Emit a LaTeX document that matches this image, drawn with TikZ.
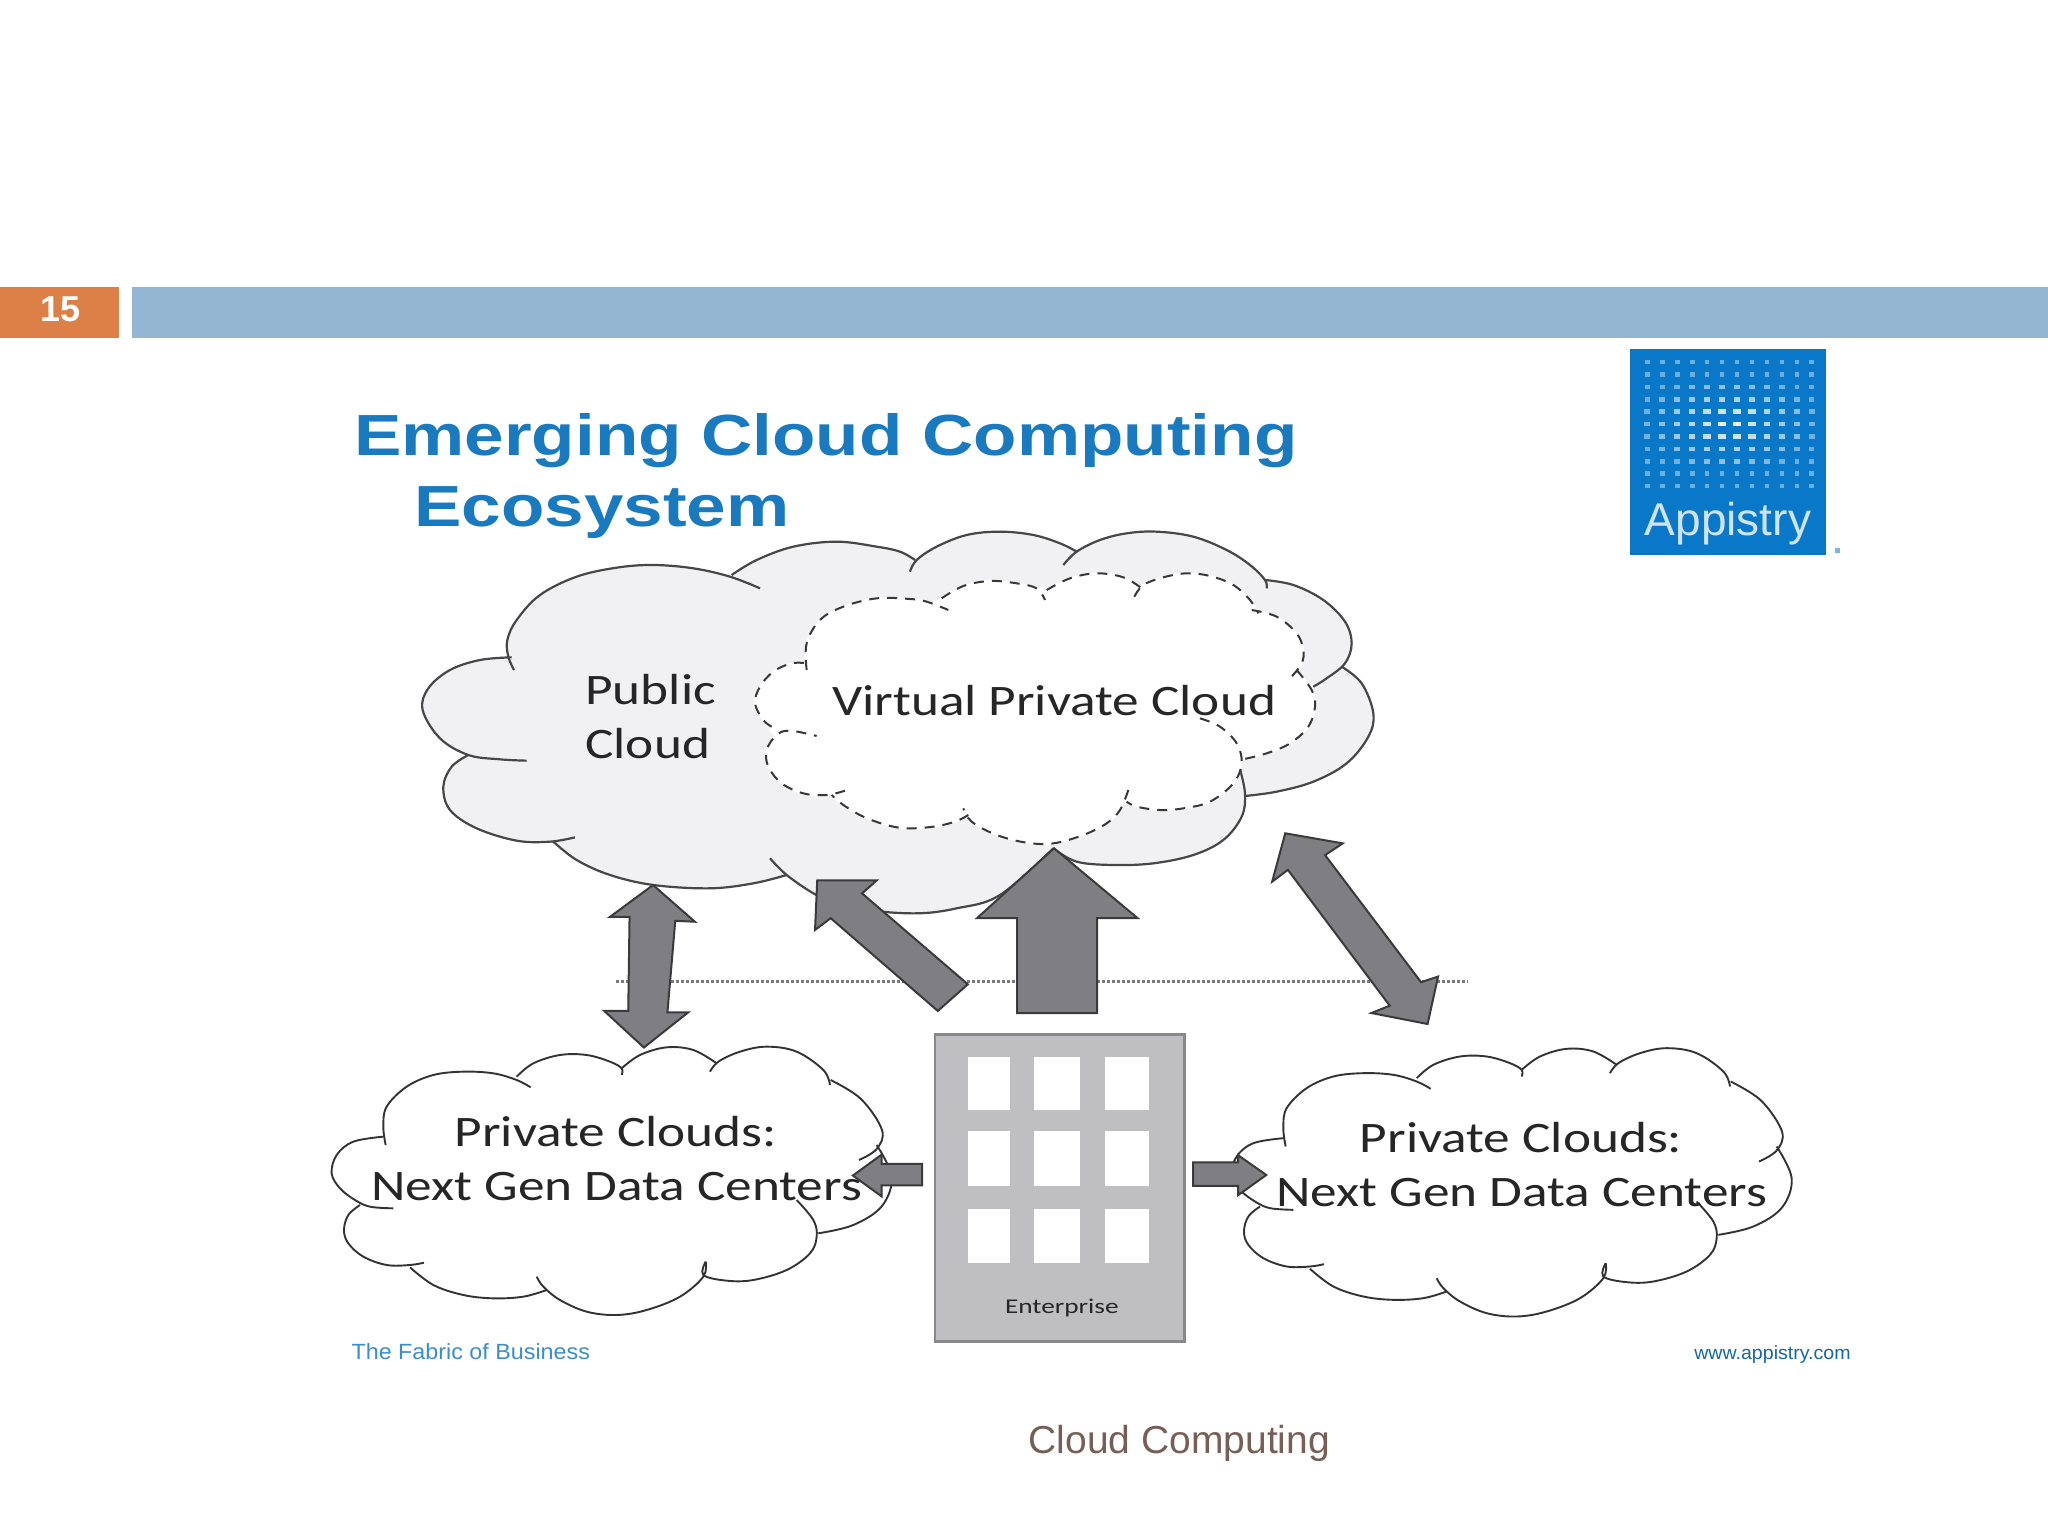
\documentclass[tikz,border=0pt]{standalone}
\usepackage{fontspec}
\setmainfont{Liberation Sans}
\newfontfamily\calib[FakeStretch=1.225]{Carlito}
\newfontfamily\calibw[FakeStretch=1.3]{Carlito}
\newfontfamily\titlef[FakeStretch=1.225]{Liberation Sans}
\newfontfamily\footf[FakeStretch=1.06]{Liberation Sans}
\newfontfamily\footg[FakeStretch=1.03]{Liberation Sans}
\definecolor{orangebar}{HTML}{DD8047}
\definecolor{bluebar}{HTML}{94B6D2}
\definecolor{titleblue}{HTML}{1A7ABF}
\definecolor{logoblue}{HTML}{0A78C8}
\definecolor{pubfill}{HTML}{F1F1F3}
\definecolor{arrowfill}{HTML}{7F7F83}
\definecolor{arrowline}{HTML}{3A3A3C}
\definecolor{bldg}{HTML}{BFBFC1}
\definecolor{bldgline}{HTML}{88888A}
\definecolor{footer}{HTML}{775F55}
\tikzset{
  bumpline/.style={line width=2.2pt,draw=black!72},
  privline/.style={line width=1.9pt,draw=black!80},
  dashline/.style={line width=2pt,draw=black!78,dash pattern=on 10pt off 8pt},
  blockarrow/.style={fill=arrowfill,draw=arrowline,line width=2pt,line join=miter},
  win/.style={fill=white,draw=none},
  lab/.style={inner sep=0pt,anchor=base west,text=black!85},
  cropA/.style={x=.33333pt,y=-.33333pt,shift={(410pt,-500pt)}},
  cropP/.style={x=.33333pt,y=-.33333pt,shift={(320pt,-1030pt)}},
  pubarea/.style={fill=pubfill,draw=pubfill,line width=1.5pt},
  whitearea/.style={fill=white,draw=white,line width=1.5pt},
}
\def\fillpub#1{\path[pubarea] plot[smooth,tension=.6] coordinates {#1};}
\def\drawpub#1{\path[bumpline] plot[smooth,tension=.6] coordinates {#1};}
\def\fillwhite#1{\path[whitearea] plot[smooth,tension=.6] coordinates {#1};}
\def\drawdash#1{\path[dashline] plot[smooth,tension=.6] coordinates {#1};}
\def\drawpriv#1{\path[privline] plot[smooth,tension=.6] coordinates {#1};}
% all in the 3x frame of crop A
\def\pubbumps#1{%
 #1{(350,782)(270,778)(175,765)(90,715)(38,630)(55,565)(120,510)(210,480)(305,472)}
 #1{(312,510)(295,470)(292,420)(320,360)(390,285)(500,230)(620,203)(730,195)(850,205)(960,230)(1050,265)}
 #1{(965,225)(1040,180)(1150,140)(1280,125)(1400,140)(1470,155)(1515,180)}
 #1{(1500,215)(1520,180)(1580,140)(1670,105)(1770,95)(1870,105)(1950,130)(2000,155)}
 #1{(1960,195)(2000,155)(2070,120)(2150,100)(2240,95)(2350,110)(2450,150)(2520,195)(2565,240)(2570,265)}
 #1{(2565,240)(2650,255)(2740,300)(2805,365)(2825,430)(2805,490)(2750,535)(2710,560)}
 #1{(2795,500)(2855,550)(2890,640)(2875,710)(2810,790)(2710,845)(2600,875)(2505,888)}
 #1{(2488,800)(2505,880)(2495,950)(2440,1020)(2350,1065)(2230,1090)(2110,1095)(2000,1085)(1930,1045)}
 #1{(1930,1045)(1770,1185)(1640,1225)(1520,1240)(1370,1230)(1270,1205)(1210,1180)(1130,1125)(1080,1075)}
 #1{(1130,1125)(1030,1150)(900,1165)(730,1155)(600,1125)(500,1080)(430,1025)}
 #1{(495,1012)(420,1025)(320,1022)(200,985)(120,930)(100,860)(125,800)(175,765)}
}
\def\vpcbumps#1{%
 #1{(1190,510)(1190,430)(1230,360)(1300,320)(1400,295)(1500,297)(1550,305)(1615,330)}
 #1{(1595,295)(1660,258)(1740,243)(1820,250)(1880,265)(1905,300)}
 #1{(1910,270)(1980,235)(2060,220)(2140,232)(2195,265)}
 #1{(2173,290)(2200,255)(2260,232)(2330,220)(2400,228)(2470,255)(2520,300)(2545,340)}
 #1{(2525,330)(2600,350)(2660,400)(2680,450)(2675,490)(2645,530)}
 #1{(2660,510)(2705,570)(2715,620)(2695,680)(2640,730)(2570,760)(2490,780)}
 #1{(2370,655)(2430,680)(2480,730)(2495,790)(2470,850)(2400,905)(2320,925)(2250,930)(2180,920)(2150,905)}
 #1{(2155,870)(2130,930)(2090,970)(2020,1005)(1930,1030)(1850,1028)(1760,1005)(1685,965)(1660,925)}
 #1{(1675,945)(1635,965)(1570,980)(1490,985)(1430,975)(1360,950)(1300,915)(1265,885)}
 #1{(1305,872)(1250,885)(1180,880)(1115,850)(1075,800)(1070,750)(1100,705)(1140,692)(1220,708)}
 #1{(1085,680)(1060,660)(1035,610)(1050,560)(1090,515)(1145,490)(1195,490)}
}
% all in the 3x frame of crop P
\def\privbumps#1{%
 #1{(197,345)(190,290)(200,230)(260,170)(340,135)(430,125)(520,130)(590,150)(632,172)}
 #1{(590,140)(640,100)(720,75)(800,75)(870,95)(905,115)(905,135)}
 #1{(905,115)(960,75)(1040,52)(1120,60)(1190,100)}
 #1{(1170,125)(1195,95)(1260,65)(1340,50)(1430,65)(1510,120)(1530,165)}
 #1{(1532,150)(1623,207)(1686,300)(1670,357)(1617,390)}
 #1{(1670,345)(1715,440)(1686,528)(1600,585)(1495,610)}
 #1{(1430,510)(1480,570)(1490,620)(1470,670)(1400,720)(1300,750)(1220,752)(1150,735)(1157,695)}
 #1{(1157,695)(1150,740)(1080,800)(980,840)(890,855)(800,845)(720,810)(670,770)(650,740)}
 #1{(680,780)(610,800)(520,805)(430,795)(340,765)(270,712)}
 #1{(312,698)(270,705)(200,705)(130,680)(85,640)(72,600)(85,555)(120,525)}
 #1{(220,535)(150,530)(105,510)(60,475)(35,430)(50,375)(100,335)(190,320)}
}
\def\privcloud{%
 \path[whitearea] (190,320)--(590,145)--(905,115)--(1190,95)--(1530,150)--(1670,345)--(1495,610)--(1150,735)--(675,780)--(270,705)--(120,525)--cycle;
 \privbumps\fillwhite
 \privbumps\drawpriv
}
\begin{document}
\begin{tikzpicture}[x=1.30612pt,y=-1.30612pt]
\useasboundingbox (0,0) rectangle (1568,1175.25);
\fill[white] (0,0) rectangle (1568,1175.25);
% header bars
\fill[orangebar] (0,220) rectangle (91,258.5);
\fill[bluebar] (101,220) rectangle (1568,258.5);
\node[inner sep=0pt,text=white] (num) at (46,237) {\fontsize{36}{36}\selectfont\bfseries 15};
% title
\node[lab,text=titleblue] (t1) at (271,349) {\fontsize{58}{58}\selectfont\titlef\bfseries Emerging Cloud Computing};
\node[lab,text=titleblue] (t2) at (317,403) {\fontsize{58}{58}\selectfont\titlef\bfseries Ecosystem};
% logo
\fill[logoblue] (1248,267) rectangle (1398,425);
\foreach \i in {0,...,11}{\foreach \j in {0,...,10}{
  \pgfmathsetmacro\dd{min(1,sqrt((\i-5.5)*(\i-5.5)/36+(\j-5)*(\j-5)/16))}
  \pgfmathsetmacro\op{0.95-0.55*\dd}
  \pgfmathsetmacro\ww{6.4-2.6*\dd}
  \fill[white,opacity=\op] ({1261+\i*11.48-\ww/2},{277.2+\j*9.5-1.8}) rectangle +(\ww,3.6);
}}
\fill[logoblue!55] (1405,419.5) rectangle +(4,4);
\node[inner sep=0pt,anchor=base,text=white!80!logoblue] (logo) at (1323,410) {\fontsize{46}{46}\selectfont Appistry};
% public cloud
\begin{scope}[cropA]
\path[pubarea] (295,470)--(965,225)--(1520,180)--(2000,155)--(2565,240)--(2800,495)--(2505,888)--(1930,1045)--(1130,1125)--(430,1025)--(175,765)--cycle;
\pubbumps\fillpub
\pubbumps\drawpub
% virtual private cloud
\path[whitearea] (1185,490)--(1600,295)--(1905,262)--(2195,258)--(2530,325)--(2660,515)--(2490,780)--(2155,905)--(1670,945)--(1265,885)--(1080,690)--cycle;
\vpcbumps\fillwhite
\vpcbumps\drawdash
\end{scope}
% dotted line
\draw[line width=3pt,draw=black!52,dash pattern=on 3pt off 2pt] (472,751.6)--(1124,751.6);
% private clouds
\begin{scope}[cropP]
\privcloud
\end{scope}
\begin{scope}[cropP,shift={(900pt,-1.5pt)}]
\privcloud
\end{scope}
% block arrows
\draw[blockarrow] (500,677.6)--(532,705.7)--(517,705)--(511,775)--(527,775)--(493,802)--(462.6,774)--(481,774)--(482,702)--(467,702)--cycle;
\draw[blockarrow] (625.7,674)--(671.3,674)--(660,684)--(741,753.6)--(718,774)--(636,703)--(624,712)--cycle;
\draw[blockarrow] (807,649.5)--(871,703)--(840,703)--(840,775.6)--(778.7,775.6)--(778.7,703)--(748,703)--cycle;
\draw[blockarrow] (984,638)--(1028,645.7)--(1014.5,654.7)--(1088,752)--(1101,747.7)--(1093,784)--(1050,775.6)--(1064,770)--(986,666)--(974,675)--cycle;
\draw[blockarrow] (653,900)--(675,884)--(675,891)--(706,891)--(706,907.5)--(675,907.5)--(675,916)--cycle;
\draw[blockarrow] (969.5,899.6)--(948,884.5)--(948,890)--(913.5,890)--(913.5,908)--(948,908)--(948,915)--cycle;
% building
\draw[fill=bldg,draw=bldgline,line width=2.4pt] (716,792) rectangle (907,1027);
\foreach \xa/\xb in {741/773,792/827,846/880}{\foreach \ya/\yb in {809/850,866/908,926/967}{
  \fill[win] (\xa,\ya) rectangle (\xb,\yb);}}
\node[lab,anchor=base] (ent) at (813,1006) {\fontsize{21}{21}\selectfont\calibw Enterprise};
% labels
\node[lab] (pub1) at (448,539) {\fontsize{43.5}{44}\selectfont\calib Public};
\node[lab] (pub2) at (448,580.5) {\fontsize{43.5}{44}\selectfont\calib Cloud};
\node[lab] (vpc) at (637,548) {\fontsize{43.5}{44}\selectfont\calib Virtual Private Cloud};
\node[lab] (pl1) at (348,878) {\fontsize{43.5}{44}\selectfont\calib Private Clouds:};
\node[lab] (pl2) at (284,919.5) {\fontsize{43.5}{44}\selectfont\calib Next Gen Data Centers};
\node[lab] (pr1) at (1041,882) {\fontsize{43.5}{44}\selectfont\calib Private Clouds:};
\node[lab] (pr2) at (977,923.5) {\fontsize{43.5}{44}\selectfont\calib Next Gen Data Centers};
% footers
\node[lab,text=titleblue!85] (ff) at (269,1041) {\fontsize{22}{22}\selectfont\footf The Fabric of Business};
\node[lab,text=black!15!titleblue,anchor=base east] (fw) at (1417,1041) {\fontsize{19}{19}\selectfont\footg www.appistry.com};
\node[inner sep=0pt,anchor=base,text=footer] (fc) at (903,1113) {\fontsize{39}{39}\selectfont Cloud Computing};
\end{tikzpicture}
\end{document}
